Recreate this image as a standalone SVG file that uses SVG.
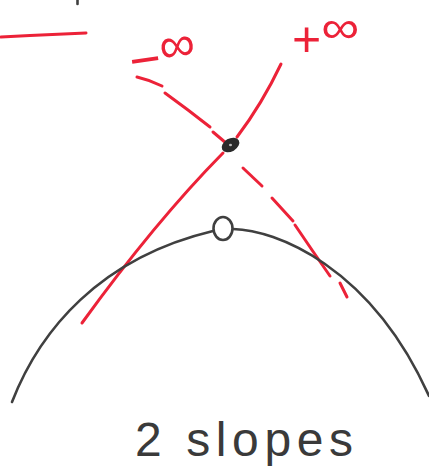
<svg xmlns="http://www.w3.org/2000/svg" width="429" height="468" viewBox="0 0 429 468">
<style>
.red{fill:none;stroke:#ec2238;stroke-width:3;stroke-linecap:round;stroke-linejoin:round}
.ink{fill:none;stroke:#404040;stroke-width:2.6;stroke-linecap:round;stroke-linejoin:round}
.redtxt{fill:#ec2238;font-family:"Liberation Sans","DejaVu Sans",sans-serif}
.inktxt{fill:#3a3a3a;font-family:"Liberation Sans","DejaVu Sans",sans-serif}
</style>
<rect width="429" height="468" fill="#ffffff"/>
<line x1="77.5" y1="0" x2="77.5" y2="4" class="ink"/>
<path d="M1 37 L30 35.5 L86 33" class="red"/>
<g id="connectors">
  <path d="M137 77 Q150 80 162 86" class="red"/>
  <path d="M165 93 L188 110 L210 127" class="red"/>
  <path d="M213 132 L226 143" class="red"/>
  <path d="M243 168 L262 186" class="red"/>
  <path d="M272 198 L293 221" class="red"/>
  <path d="M295 225 L312 250 L330 276" class="red"/>
  <path d="M340 283 L347 297" class="red"/>
  <path d="M281 64 Q262 104 237 137" class="red"/>
  <path d="M223 153 Q155 222 82 323" class="red"/>
</g>
<g id="curve">
  <path d="M12 402 C40 330 100 258 213 231" class="ink"/>
  <path d="M233 229 C275 230 370 265 429 396" class="ink"/>
</g>
<g id="point-intersection">
  <ellipse cx="230.5" cy="145" rx="9.5" ry="6.5" transform="rotate(-30 230.5 145)" fill="#2a2a2a"/>
  <ellipse cx="230.5" cy="145" rx="1.5" ry="1.2" fill="#bbbbbb"/>
</g>
<g id="point-vertex">
  <ellipse cx="223" cy="228.5" rx="9.5" ry="11.5" class="ink"/>
</g>
<g id="label-neg-inf">
  <text x="132" y="80" font-size="54" class="redtxt" transform="rotate(-8 132 80)">−<tspan font-size="50" dy="-12">∞</tspan></text>
</g>
<g id="label-pos-inf">
  <text x="292" y="56" font-size="50" class="redtxt">+<tspan font-size="46" dy="-13" textLength="38" lengthAdjust="spacingAndGlyphs">∞</tspan></text>
</g>
<g id="label-slopes">
  <text x="135" y="456" font-size="48" class="inktxt" textLength="218" lengthAdjust="spacing">2 slopes</text>
</g>
</svg>
